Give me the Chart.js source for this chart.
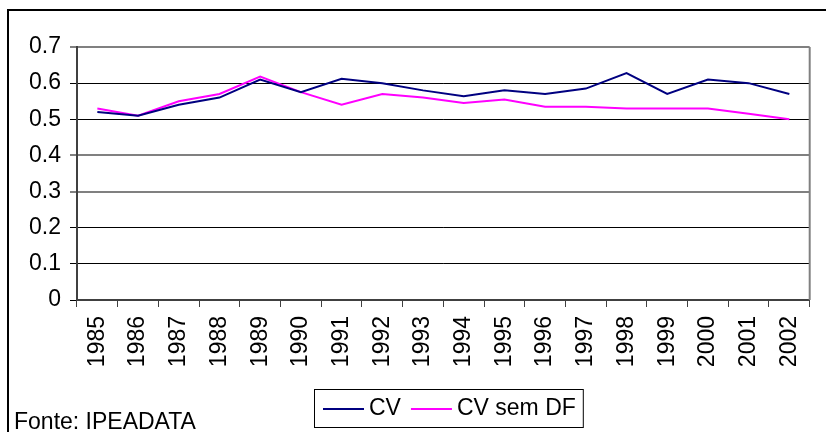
<!DOCTYPE html>
<html>
<head>
<meta charset="utf-8">
<script src="https://cdn.jsdelivr.net/npm/chart.js"></script>
<style>
  html,body{margin:0;padding:0;background:#fff}
  #wrap{width:826px;height:432px}
</style>
</head>
<body>
<div id="wrap"><canvas id="cv" width="826" height="432"></canvas></div>
<script>
/* ---------- data */
const YEARS  = ['1985','1986','1987','1988','1989','1990','1991','1992','1993',
                '1994','1995','1996','1997','1998','1999','2000','2001','2002'];
const CV     = [0.52,0.51,0.54,0.56,0.61,0.575,0.612,0.60,0.58,
                0.564,0.58,0.57,0.585,0.628,0.57,0.61,0.60,0.57];
const CV_SDF = [0.53,0.51,0.55,0.57,0.618,0.575,0.54,0.57,0.56,
                0.545,0.555,0.535,0.535,0.53,0.53,0.53,0.515,0.50];
const SERIES_NAMES = ['CV','CV sem DF'];
const SERIES_COLORS = ['#000080','#FF00FF'];
const SOURCE = 'Fonte: IPEADATA';
const GRAY_LINES = [0.7,0.4,0.3];   // these read as soft grey in the original

const FONT = '"Liberation Sans", Arial, sans-serif';
const FS   = 23;

const isGray = v => GRAY_LINES.some(g => Math.abs(g - v) < 1e-6);

/* ---------- frame, plot border, legend box, source note */
const decor = {
  id:'decor',
  beforeDraw(c){
    const g = c.ctx;
    g.save();
    g.fillStyle = '#fff'; g.fillRect(0,0,c.width,c.height);
    g.strokeStyle = '#000'; g.lineWidth = 2;
    g.beginPath(); g.moveTo(8,440); g.lineTo(8,10); g.lineTo(840,10); g.stroke();
    g.restore();
  },
  beforeDatasetsDraw(c){
    const g = c.ctx, a = c.chartArea;
    g.save();
    g.strokeStyle = '#808080'; g.lineWidth = 2;
    g.beginPath(); g.moveTo(a.right, a.top); g.lineTo(a.right, a.bottom); g.stroke();
    g.restore();
  },
  afterDraw(c){
    const g = c.ctx;
    g.save();
    g.font = `${FS}px ${FONT}`;
    g.textBaseline = 'middle';
    const padL = 9, lineW = 41, gap = 5, itemGap = 10, padR = 7;
    const widths = SERIES_NAMES.map(n => g.measureText(n).width);
    const total = padL + padR + widths.reduce((s,w)=>s+lineW+gap+w,0) + itemGap*(widths.length-1);
    const x0 = Math.round(448 - total/2), y0 = 389, h = 38;
    g.strokeStyle = '#000'; g.lineWidth = 1;
    g.strokeRect(x0+0.5, y0+0.5, total, h);
    let x = x0 + padL;
    const ym = y0 + h/2 + 1;
    SERIES_NAMES.forEach((n,i)=>{
      g.strokeStyle = SERIES_COLORS[i]; g.lineWidth = 2;
      g.beginPath(); g.moveTo(x, ym); g.lineTo(x+lineW, ym); g.stroke();
      x += lineW + gap;
      g.fillStyle = '#000'; g.fillText(n, x, ym);
      x += widths[i] + itemGap;
    });
    g.textBaseline = 'alphabetic';
    g.fillText(SOURCE, 14, 429);
    g.restore();
  }
};

new Chart(document.getElementById('cv'),{
  type:'line',
  data:{
    labels:YEARS,
    datasets:[
      {label:SERIES_NAMES[0], data:CV,     borderColor:SERIES_COLORS[0], backgroundColor:SERIES_COLORS[0]},
      {label:SERIES_NAMES[1], data:CV_SDF, borderColor:SERIES_COLORS[1], backgroundColor:SERIES_COLORS[1]}
    ]
  },
  options:{
    responsive:false,
    animation:false,
    layout:{padding:{left:0,top:47,right:2,bottom:0}},
    elements:{line:{borderWidth:2,tension:0},point:{radius:0,hoverRadius:0}},
    plugins:{legend:{display:false},tooltip:{enabled:false}},
    scales:{
      x:{
        offset:true,
        grid:{offset:true,drawOnChartArea:false,tickLength:7,color:'#404040',lineWidth:1},
        border:{color:'#404040',width:2},
        ticks:{minRotation:90,maxRotation:90,autoSkip:false,padding:9,
               color:'#000',font:{family:FONT,size:FS}},
        afterFit:s=>{ s.height = 132; }
      },
      y:{
        min:0,max:0.7,
        grid:{tickLength:7,
              lineWidth:c=> c.tick && isGray(c.tick.value) ? 2 : 1,
              color:c=> c.tick && isGray(c.tick.value) ? '#808080' : '#000'},
        border:{color:'#404040',width:2},
        ticks:{stepSize:0.1,padding:9,color:'#000',font:{family:FONT,size:FS},
               callback:v=> v===0 ? '0' : (+v).toFixed(1)},
        afterFit:s=>{ s.width = 77; }
      }
    }
  },
  plugins:[decor]
});
</script>
</body>
</html>
